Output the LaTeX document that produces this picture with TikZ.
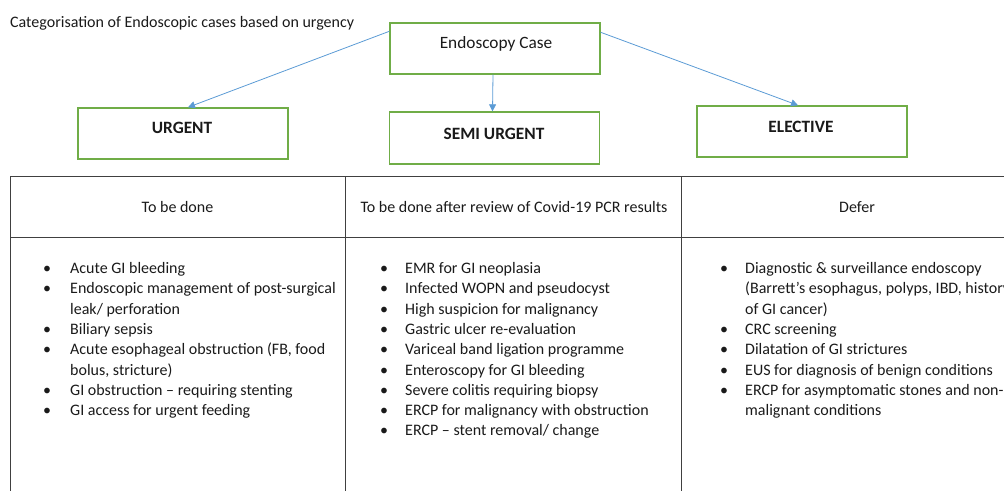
\documentclass[tikz,border=0pt]{standalone}
\usepackage{fontspec}
\setmainfont{Carlito}
\usetikzlibrary{arrows.meta}
\definecolor{boxgreen}{HTML}{70AD47}
\definecolor{arrowblue}{HTML}{5B9BD5}
\definecolor{rule}{HTML}{404040}
\definecolor{txt}{HTML}{1A1A1A}
\begin{document}
\begin{tikzpicture}[x=1pt,y=-1pt,
  box/.style={draw=boxgreen, line width=1.4pt, inner sep=0pt, minimum width=210pt, minimum height=51pt},
  boxlabel/.style={font=\fontsize{17.3}{20}\selectfont, text=txt, inner sep=0pt, anchor=base},
  boldlabel/.style={boxlabel, font=\fontsize{17.3}{20}\selectfont\bfseries},
  conn/.style={draw=arrowblue, line width=0.8pt, -{Triangle[length=7pt,width=7pt]}},
  body/.style={font=\fontsize{16}{19}\selectfont, text=txt, inner sep=0pt, anchor=base west},
  head/.style={font=\fontsize{16}{19}\selectfont, text=txt, inner sep=0pt, anchor=base},
  bul/.style={font=\fontsize{16}{19}\selectfont, text=txt, inner sep=0pt, anchor=base},
  tline/.style={draw=rule, line width=0.8pt}
]
\useasboundingbox (0,0) rectangle (1004,491);
\clip (0,0) rectangle (1004,491);

% title
\node[body] (title) at (10,27.5) {Categorisation of Endoscopic cases based on urgency};

% boxes
\node[box] (ec) at (495,48.5) {};
\node[boxlabel] (ecl) at (496,48.5) {Endoscopy Case};
\node[box] (urg) at (183,133.5) {};
\node[boldlabel] (urgl) at (182,133) {URGENT};
\node[box, minimum height=52pt] (semi) at (494.5,138) {};
\node[boldlabel] (semil) at (494,139) {SEMI URGENT};
\node[box] (el) at (802,131.5) {};
\node[boldlabel] (ell) at (801,132) {ELECTIVE};

% connectors
\draw[conn] ([yshift=-9pt]ec.north west) -- ([xshift=5pt]urg.north);
\draw[conn] ([xshift=-2pt]ec.south) -- ([xshift=-2pt]semi.north);
\draw[conn] ([yshift=-10pt]ec.north east) -- ([xshift=-4pt]el.north);

% table
\draw[tline] (10,176) -- (1004,176);
\draw[tline] (10,237) -- (1004,237);
\draw[tline] (10,176) -- (10,491);
\draw[tline] (345,176) -- (345,491);
\draw[tline] (681,176) -- (681,491);

\node[head] (h1) at (177.5,212.5) {To be done};
\node[head] (h2) at (514,212.5) {To be done after review of Covid-19 PCR results};
\node[head] (h3) at (857,212.5) {Defer};

% column 1
\node[bul] (b11) at (47,273.5) {•};
\node[body] (t11) at (70,273.5) {Acute GI bleeding};
\node[bul] (b12) at (47,293.8) {•};
\node[body] (t12) at (70,293.8) {Endoscopic management of post-surgical};
\node[body] (t12b) at (70,314.1) {leak/ perforation};
\node[bul] (b13) at (47,334.4) {•};
\node[body] (t13) at (70,334.4) {Biliary sepsis};
\node[bul] (b14) at (47,354.7) {•};
\node[body] (t14) at (70,354.7) {Acute esophageal obstruction (FB, food};
\node[body] (t14b) at (70,375.0) {bolus, stricture)};
\node[bul] (b15) at (47,395.3) {•};
\node[body] (t15) at (70,395.3) {GI obstruction – requiring stenting};
\node[bul] (b16) at (47,415.6) {•};
\node[body] (t16) at (70,415.6) {GI access for urgent feeding};

% column 2
\node[bul] (b21) at (384,273.5) {•};
\node[body] (t21) at (405,273.5) {EMR for GI neoplasia};
\node[bul] (b22) at (384,293.8) {•};
\node[body] (t22) at (405,293.8) {Infected WOPN and pseudocyst};
\node[bul] (b23) at (384,314.1) {•};
\node[body] (t23) at (405,314.1) {High suspicion for malignancy};
\node[bul] (b24) at (384,334.4) {•};
\node[body] (t24) at (405,334.4) {Gastric ulcer re-evaluation};
\node[bul] (b25) at (384,354.7) {•};
\node[body] (t25) at (405,354.7) {Variceal band ligation programme};
\node[bul] (b26) at (384,375.0) {•};
\node[body] (t26) at (405,375.0) {Enteroscopy for GI bleeding};
\node[bul] (b27) at (384,395.3) {•};
\node[body] (t27) at (405,395.3) {Severe colitis requiring biopsy};
\node[bul] (b28) at (384,415.6) {•};
\node[body] (t28) at (405,415.6) {ERCP for malignancy with obstruction};
\node[bul] (b29) at (384,435.9) {•};
\node[body] (t29) at (405,435.9) {ERCP – stent removal/ change};

% column 3
\node[bul] (b31) at (724,273.5) {•};
\node[body] (t31) at (745,273.5) {Diagnostic \& surveillance endoscopy};
\node[body] (t31b) at (745,293.8) {(Barrett’s esophagus, polyps, IBD, history};
\node[body] (t31c) at (745,314.1) {of GI cancer)};
\node[bul] (b32) at (724,334.4) {•};
\node[body] (t32) at (745,334.4) {CRC screening};
\node[bul] (b33) at (724,354.7) {•};
\node[body] (t33) at (745,354.7) {Dilatation of GI strictures};
\node[bul] (b34) at (724,375.0) {•};
\node[body] (t34) at (745,375.0) {EUS for diagnosis of benign conditions};
\node[bul] (b35) at (724,395.3) {•};
\node[body] (t35) at (745,395.3) {ERCP for asymptomatic stones and non-};
\node[body] (t35b) at (745,415.6) {malignant conditions};
\end{tikzpicture}
\end{document}
